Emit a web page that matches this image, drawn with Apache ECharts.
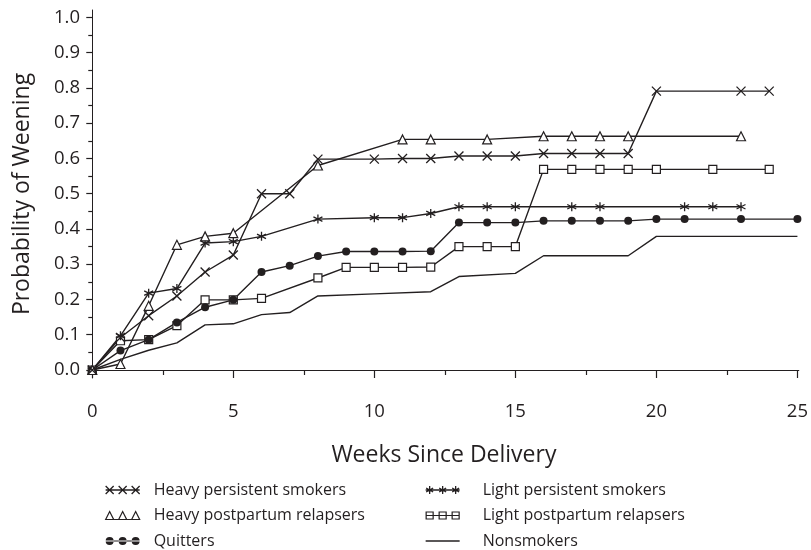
<!DOCTYPE html>
<html>
<head>
<meta charset="utf-8">
<script src="https://cdn.jsdelivr.net/npm/echarts@6/dist/echarts.min.js"></script>
<style>html,body{margin:0;padding:0;background:#fff;}#c{width:811px;height:550px;}</style>
</head>
<body>
<div id="c"></div>
<script>
// ---- Data (weeks since delivery, probability of weaning) ----
const seriesNames = ['Heavy persistent smokers','Heavy postpartum relapsers','Quitters',
                     'Light persistent smokers','Light postpartum relapsers','Nonsmokers'];

const heavyPersistentWeeks = [0,1,2,3,4,5,6,7,8,10,11,12,13,14,15,16,17,18,19,20,23,24];
const heavyPersistentProb  = [0,0.092,0.154,0.21,0.278,0.326,0.50,0.50,0.598,0.598,0.60,0.60,0.607,0.607,0.607,0.614,0.614,0.614,0.614,0.791,0.791,0.791];

const heavyRelapseWeeks = [0,1,2,3,4,5,8,11,12,14,16,17,18,19,23];
const heavyRelapseProb  = [0,0.017,0.182,0.355,0.379,0.388,0.58,0.654,0.654,0.654,0.663,0.663,0.663,0.663,0.663];

const quittersWeeks = [0,1,2,3,4,5,6,7,8,9,10,11,12,13,14,15,16,17,18,19,20,21,23,25];
const quittersProb  = [0,0.055,0.086,0.135,0.178,0.199,0.278,0.296,0.323,0.336,0.336,0.336,0.337,0.418,0.418,0.418,0.423,0.423,0.423,0.423,0.428,0.428,0.428,0.428];

const lightPersistentWeeks = [0,1,2,3,4,5,6,8,10,11,12,13,14,15,17,18,21,22,23];
const lightPersistentProb  = [0,0.097,0.218,0.231,0.36,0.364,0.379,0.428,0.432,0.432,0.444,0.463,0.463,0.463,0.463,0.463,0.463,0.463,0.463];

const lightRelapseWeeks = [0,1,2,3,4,5,6,8,9,10,11,12,13,14,15,16,17,18,19,20,22,24];
const lightRelapseProb  = [0,0.083,0.086,0.126,0.199,0.199,0.203,0.261,0.291,0.291,0.291,0.292,0.35,0.35,0.35,0.569,0.569,0.569,0.569,0.569,0.569,0.569];

const nonsmokerWeeks = [0,1,2,3,4,5,6,7,8,10,12,13,15,16,19,20,25];
const nonsmokerProb  = [0,0.03,0.056,0.077,0.128,0.131,0.157,0.163,0.21,0.216,0.222,0.265,0.274,0.324,0.324,0.379,0.379];

const xTickLabels = [0,5,10,15,20,25];
const xMinorTicks = [2.5,7.5,12.5,17.5,22.5];
const yTickLabels = [0,0.1,0.2,0.3,0.4,0.5,0.6,0.7,0.8,0.9,1.0];
const yMinorTicks = [0.05,0.15,0.25,0.35,0.45,0.55,0.65,0.75,0.85,0.95];

// ---- Chart ----
const INK = '#231f20';
const FONT = '"Open Sans", "Noto Sans", sans-serif';
const pair = (xs, ys) => xs.map((x, i) => [x, ys[i]]);

const symX = 'path://M0,0L10,10M10,0L0,10';
const symStar = 'path://M5,0L5,10M0.7,2.5L9.3,7.5M0.7,7.5L9.3,2.5';

const legX = 'path://M0,4L34,4M0,0L8,8M8,0L0,8M13,0L21,8M21,0L13,8M26,0L34,8M34,0L26,8';
const legTri = 'path://M0,8L34,8M0,8L4,0L8,8ZM13,8L17,0L21,8ZM26,8L30,0L34,8Z';
const legDot = 'path://M0,3.4L34,3.4L34,4.6L0,4.6ZM0,4A4,4 0 1,0 8,4A4,4 0 1,0 0,4ZM13,4A4,4 0 1,0 21,4A4,4 0 1,0 13,4ZM26,4A4,4 0 1,0 34,4A4,4 0 1,0 26,4Z';
const legStar = 'path://M0,4L34,4M4,0L4,8M0.5,2L7.5,6M0.5,6L7.5,2M17,0L17,8M13.5,2L20.5,6M13.5,6L20.5,2M30,0L30,8M26.5,2L33.5,6M26.5,6L33.5,2';
const legSq = 'path://M0,4L34,4M0.5,0.5L7.5,0.5L7.5,7.5L0.5,7.5ZM13.5,0.5L20.5,0.5L20.5,7.5L13.5,7.5ZM26.5,0.5L33.5,0.5L33.5,7.5L26.5,7.5Z';
const legLine = 'path://M0,0L34,0L34,1.5L0,1.5Z';

function lineSeries(name, data, symbol, size, itemStyle) {
  return {
    type: 'line', name, data, symbol, symbolSize: size,
    showAllSymbol: true,
    lineStyle: { color: INK, width: 1.4 },
    itemStyle: itemStyle,
    emphasis: { disabled: true },
    z: 3
  };
}

const strokeSym = { color: INK, borderColor: INK, borderWidth: 1.3 };
const hollowSym = { color: '#fff', borderColor: INK, borderWidth: 1.2 };
const filledSym = { color: INK, borderColor: INK, borderWidth: 0 };

const legendText = { color: INK, fontSize: 16, fontFamily: FONT, lineHeight: 20 };

const option = {
  animation: false,
  backgroundColor: '#fff',
  grid: { left: 89, right: 8, top: 10, bottom: 172, containLabel: false },
  xAxis: [{
    type: 'value', position: 'bottom', min: -0.116, max: 25.05,
    name: 'Weeks Since Delivery', nameLocation: 'middle', nameGap: 66,
    nameTextStyle: { color: INK, fontSize: 23, fontFamily: FONT },
    axisLine: { show: true, lineStyle: { color: INK, width: 1 } },
    axisTick: { show: true, customValues: xTickLabels, length: 8, lineStyle: { color: INK, width: 1.2 } },
    axisLabel: { customValues: xTickLabels, color: INK, fontSize: 18.5, fontFamily: FONT, margin: 24,
                 formatter: v => String(v) },
    splitLine: { show: false }
  }, {
    type: 'value', position: 'bottom', min: -0.116, max: 25.05,
    axisLine: { show: false },
    axisTick: { show: true, customValues: xMinorTicks, length: 5, lineStyle: { color: INK, width: 1.2 } },
    axisLabel: { show: false },
    splitLine: { show: false }
  }],
  yAxis: [{
    type: 'value', position: 'left', min: -0.0227, max: 1.021,
    name: 'Probability of Weening', nameLocation: 'middle', nameGap: 55,
    nameTextStyle: { color: INK, fontSize: 23, fontFamily: FONT },
    axisLine: { show: true, lineStyle: { color: INK, width: 1 } },
    axisTick: { show: true, customValues: yTickLabels, length: 6, lineStyle: { color: INK, width: 1.2 } },
    axisLabel: { customValues: yTickLabels, color: INK, fontSize: 18.5, fontFamily: FONT, margin: 9,
                 formatter: v => Number(v).toFixed(1) },
    splitLine: { show: false }
  }, {
    type: 'value', position: 'left', min: -0.0227, max: 1.021,
    axisLine: { show: false },
    axisTick: { show: true, customValues: yMinorTicks, length: 4, lineStyle: { color: INK, width: 1.2 } },
    axisLabel: { show: false },
    splitLine: { show: false }
  }],
  legend: [{
    orient: 'vertical', left: 105, top: 480, height: 100, width: 300, padding: 0,
    itemWidth: 34, itemHeight: 8, itemGap: 5.5, selectedMode: false,
    textStyle: Object.assign({ padding: [0, 0, 0, 9] }, legendText),
    data: [
      { name: seriesNames[0], icon: legX, itemStyle: { color: INK, borderColor: INK, borderWidth: 1.3 } },
      { name: seriesNames[1], icon: legTri, itemStyle: { color: '#fff', borderColor: INK, borderWidth: 1.2 } },
      { name: seriesNames[2], icon: legDot, itemStyle: { color: INK, borderColor: INK, borderWidth: 0 } }
    ]
  }, {
    orient: 'vertical', left: 425, top: 480, height: 100, width: 300, padding: 0,
    itemWidth: 34, itemHeight: 8, itemGap: 5.5, selectedMode: false,
    textStyle: Object.assign({ padding: [0, 0, 0, 18] }, legendText),
    data: [
      { name: seriesNames[3], icon: legStar, itemStyle: { color: INK, borderColor: INK, borderWidth: 1.3 } },
      { name: seriesNames[4], icon: legSq, itemStyle: { color: '#fff', borderColor: INK, borderWidth: 1.2 } },
      { name: seriesNames[5], icon: legLine, itemStyle: { color: INK, borderColor: INK, borderWidth: 0 } }
    ]
  }],
  series: [
    lineSeries(seriesNames[5], pair(nonsmokerWeeks, nonsmokerProb), 'none', 0, filledSym),
    lineSeries(seriesNames[4], pair(lightRelapseWeeks, lightRelapseProb), 'rect', 8, hollowSym),
    lineSeries(seriesNames[2], pair(quittersWeeks, quittersProb), 'circle', 8, filledSym),
    lineSeries(seriesNames[3], pair(lightPersistentWeeks, lightPersistentProb), symStar, 9, strokeSym),
    lineSeries(seriesNames[1], pair(heavyRelapseWeeks, heavyRelapseProb), 'triangle', 9, hollowSym),
    lineSeries(seriesNames[0], pair(heavyPersistentWeeks, heavyPersistentProb), symX, 9, strokeSym)
  ]
};

const chart = echarts.init(document.getElementById('c'), null, { renderer: 'canvas' });
chart.setOption(option);
</script>
</body>
</html>
